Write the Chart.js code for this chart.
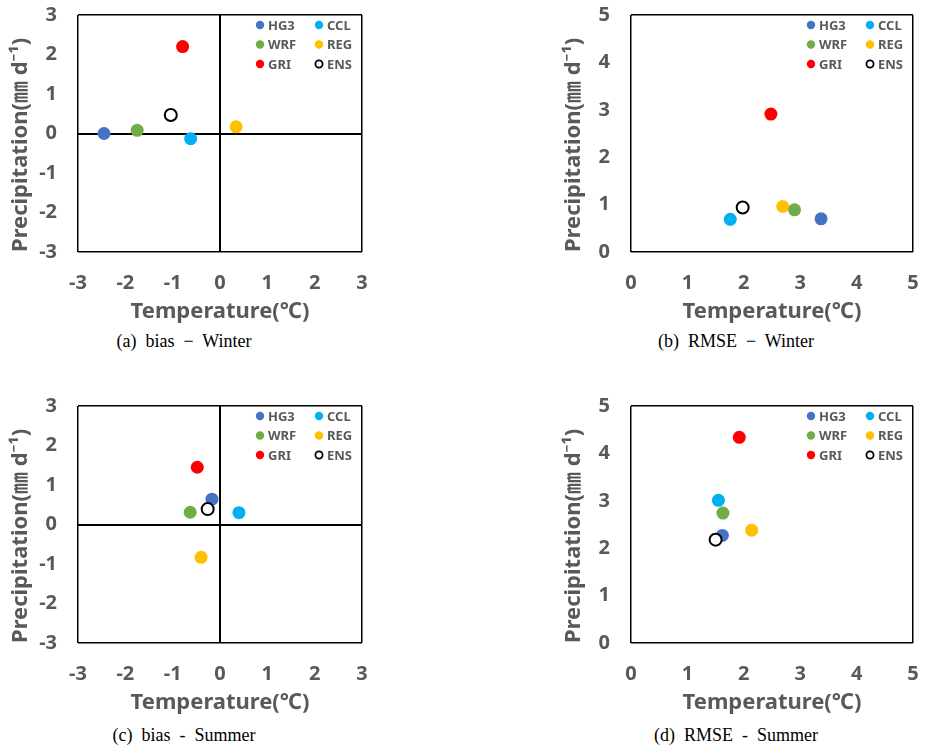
<!DOCTYPE html>
<html>
<head>
<meta charset="utf-8">
<script src="https://cdn.jsdelivr.net/npm/chart.js@4/dist/chart.umd.min.js"></script>
<style>
  body { margin: 0; background: #fff; }
  #wrap { position: relative; width: 925px; height: 750px; overflow: hidden; }
  canvas { position: absolute; }
  .cap {
    position: absolute; width: 300px; text-align: center; white-space: pre;
    font-family: "Liberation Serif", "DejaVu Serif", serif; font-size: 18px; color: #000;
  }
</style>
</head>
<body>
<div id="wrap">
  <canvas id="chartA" width="460" height="330" style="left:0;top:0"></canvas>
  <canvas id="chartB" width="465" height="330" style="left:460px;top:0"></canvas>
  <canvas id="chartC" width="460" height="330" style="left:0;top:391px"></canvas>
  <canvas id="chartD" width="465" height="330" style="left:460px;top:391px"></canvas>
  <div class="cap" style="left:34px;top:331px">(a)  bias  −  Winter</div>
  <div class="cap" style="left:586px;top:331px">(b)  RMSE  −  Winter</div>
  <div class="cap" style="left:34px;top:725px">(c)  bias  -  Summer</div>
  <div class="cap" style="left:586px;top:725px">(d)  RMSE  -  Summer</div>
</div>
<script>
// Models and colours
const models = ['HG3', 'CCL', 'WRF', 'REG', 'GRI', 'ENS'];
const modelColors = ['#4472C4', '#00B0F0', '#70AD47', '#FFC000', '#FF0000', '#FFFFFF'];

// (a) bias - Winter
const winterBiasTemp = [-2.45, -0.62, -1.75, 0.34, -0.79, -1.04];
const winterBiasPrec = [0.00, -0.13, 0.08, 0.17, 2.20, 0.47];
// (b) RMSE - Winter
const winterRmseTemp = [3.37, 1.76, 2.90, 2.69, 2.48, 1.98];
const winterRmsePrec = [0.70, 0.69, 0.89, 0.96, 2.91, 0.94];
// (c) bias - Summer
const summerBiasTemp = [-0.17, 0.40, -0.63, -0.40, -0.48, -0.26];
const summerBiasPrec = [0.64, 0.30, 0.31, -0.83, 1.45, 0.39];
// (d) RMSE - Summer
const summerRmseTemp = [1.62, 1.55, 1.63, 2.14, 1.92, 1.50];
const summerRmsePrec = [2.27, 3.01, 2.74, 2.38, 4.34, 2.18];

const biasTicks = [-3, -2, -1, 0, 1, 2, 3];
const rmseTicks = [0, 1, 2, 3, 4, 5];

const xTitle = 'Temperature(℃)';
const yTitle = 'Precipitation(㎜ d⁻¹)';

const fontFamily = '"Noto Sans", "Noto Sans CJK KR", sans-serif';
const textGray = '#595959';

// legend in the top right corner of the plot, 2 columns x 3 rows
const cornerLegend = {
  id: 'cornerLegend',
  afterDatasetsDraw(chart) {
    const { ctx, chartArea: a } = chart;
    ctx.save();
    ctx.font = 'bold 13px ' + fontFamily;
    ctx.textBaseline = 'middle';
    ctx.textAlign = 'left';
    chart.data.datasets.forEach((ds, i) => {
      const mx = a.right - 102 + (i % 2) * 59;
      const my = a.top + 10 + Math.floor(i / 2) * 19.5;
      ctx.beginPath();
      if (ds.label === 'ENS') {
        ctx.arc(mx, my, 3.6, 0, Math.PI * 2);
        ctx.fillStyle = '#fff';
        ctx.fill();
        ctx.lineWidth = 1.8;
        ctx.strokeStyle = '#000';
        ctx.stroke();
      } else {
        ctx.arc(mx, my, 4.2, 0, Math.PI * 2);
        ctx.fillStyle = ds.backgroundColor;
        ctx.fill();
      }
      ctx.fillStyle = textGray;
      ctx.fillText(ds.label, mx + 8, my + 1);
    });
    ctx.restore();
  }
};

// box + zero lines come from the grid lines at min, max (and 0 for bias)
function makeScale(ticks, isBias, axis, yOpts) {
  const min = ticks[0], max = ticks[ticks.length - 1];
  return {
    type: 'linear',
    min: min,
    max: max,
    afterBuildTicks: s => { s.ticks = ticks.map(v => ({ value: v })); },
    afterFit: s => {
      if (axis === 'y') s.width = yOpts.width;
      else s.height = 78;
      s.paddingTop = 0;
      s.paddingBottom = 0;
      s.paddingLeft = 0;
      s.paddingRight = 0;
    },
    border: { display: false },
    grid: {
      drawTicks: false,
      color: c => (c.tick.value === min || c.tick.value === max || (isBias && c.tick.value === 0)) ? '#000' : 'rgba(0,0,0,0)',
      lineWidth: c => (c.tick.value === 0 && isBias) ? 2 : 1.5
    },
    ticks: {
      color: textGray,
      padding: axis === 'y' ? 21 : 19,
      font: { family: fontFamily, size: 20, weight: 'bold' }
    },
    title: {
      display: true,
      text: axis === 'y' ? yTitle : xTitle,
      color: textGray,
      align: axis === 'y' ? 'start' : 'center',
      padding: axis === 'y' ? { top: yOpts.pad, bottom: 0 } : { top: 0, bottom: 5 },
      font: { family: fontFamily, size: 22, weight: 'bold', lineHeight: 1.2 }
    }
  };
}

function makeChart(id, temps, precs, ticks, isBias, yAxisWidth, yTitlePad, rightPad) {
  const datasets = models.map((m, i) => ({
    label: m,
    data: [{ x: temps[i], y: precs[i] }],
    backgroundColor: modelColors[i],
    borderColor: m === 'ENS' ? '#000' : modelColors[i],
    borderWidth: m === 'ENS' ? 2 : 0,
    pointRadius: m === 'ENS' ? 6 : 6.5,
    order: m === 'ENS' ? 0 : 1
  }));
  return new Chart(document.getElementById(id), {
    type: 'scatter',
    data: { datasets: datasets },
    options: {
      responsive: false,
      animation: false,
      layout: { padding: { left: 0, right: rightPad, top: 15, bottom: 0 } },
      plugins: { legend: { display: false }, tooltip: { enabled: false } },
      scales: {
        x: makeScale(ticks, isBias, 'x'),
        y: makeScale(ticks, isBias, 'y', { width: yAxisWidth, pad: yTitlePad })
      }
    },
    plugins: [cornerLegend]
  });
}

makeChart('chartA', winterBiasTemp, winterBiasPrec, biasTicks, true, 78, 8, 98);
makeChart('chartB', winterRmseTemp, winterRmsePrec, rmseTicks, false, 171, 101, 12);
makeChart('chartC', summerBiasTemp, summerBiasPrec, biasTicks, true, 78, 8, 98);
makeChart('chartD', summerRmseTemp, summerRmsePrec, rmseTicks, false, 171, 101, 12);
</script>
</body>
</html>
